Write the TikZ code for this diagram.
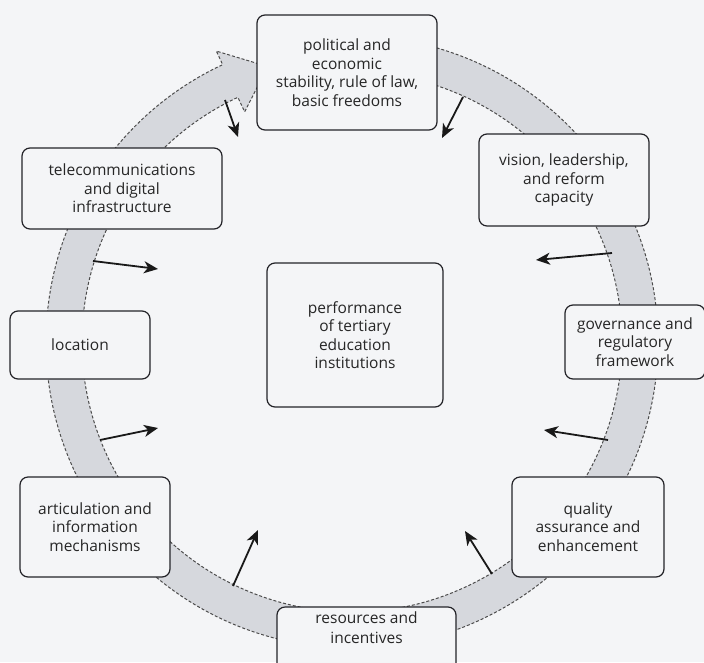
\documentclass[tikz,border=0pt]{standalone}
\usepackage{fontspec}
\setmainfont{Open Sans}
\usetikzlibrary{arrows.meta}
\definecolor{paper}{RGB}{244,245,247}
\definecolor{bandfill}{RGB}{214,216,221}
\definecolor{edge}{RGB}{35,35,40}
\begin{document}
\begin{tikzpicture}[x=1pt,y=-1pt,
  box/.style={draw=edge, line width=1.2pt, rounded corners=8pt, fill=paper, align=center, inner sep=0pt, font=\fontsize{15.5}{18.5}\selectfont, text=black!85},
  link/.style={draw=black!90, line width=1.8pt, -{Stealth[length=14pt,width=12pt,inset=4pt]}},
  band/.style={fill=bandfill, draw=black!70, line width=1pt, dash pattern=on 3pt off 2pt}]
\fill[paper] (0,0) rectangle (704,662);
\useasboundingbox (0,0) rectangle (704,662);
% circular band with arrowhead
\begin{scope}[shift={(352,342)}]
\draw[band] (-88:306) arc[start angle=-88, end angle=245, radius=306]
  -- (245:321) -- (253:288) -- (245:254) -- (245:270)
  arc[start angle=245, end angle=-88, radius=270] -- cycle;
\end{scope}
% boxes
\node[box, minimum width=180pt, minimum height=115pt] (top) at (347,72.5) {political and\\economic\\stability, rule of law,\\basic freedoms};
\node[box, minimum width=170pt, minimum height=92pt] (vision) at (564,180) {vision, leadership,\\and reform\\capacity};
\node[box, minimum width=140pt, minimum height=74pt] (gov) at (635,342) {governance and\\regulatory\\framework};
\node[box, minimum width=152pt, minimum height=100pt] (quality) at (588,527) {quality\\assurance and\\enhancement};
\node[box, minimum width=179pt, minimum height=80pt] (res) at (366.5,647) {resources and\\[2pt]incentives\\[20pt]};
\node[box, minimum width=150pt, minimum height=100pt] (artic) at (95,527) {articulation and\\information\\mechanisms};
\node[box, minimum width=140pt, minimum height=68pt] (loc) at (80,345) {location};
\node[box, minimum width=200pt, minimum height=81pt] (tele) at (122,188.5) {telecommunications\\and digital\\infrastructure};
\node[box, minimum width=176pt, minimum height=144pt] (perf) at (355,335) {performance\\of tertiary\\education\\institutions};
% arrows from the band into the centre
\coordinate (a1s) at (225,100); \coordinate (a1e) at (238,137);
\coordinate (a2s) at (463,97);  \coordinate (a2e) at (442,138);
\coordinate (a3s) at (93,261);  \coordinate (a3e) at (158,269);
\coordinate (a4s) at (100,440); \coordinate (a4e) at (158,428);
\coordinate (a5s) at (612,253); \coordinate (a5e) at (536,260);
\coordinate (a6s) at (608,440); \coordinate (a6e) at (544,430);
\coordinate (a7s) at (233,586); \coordinate (a7e) at (258,530);
\coordinate (a8s) at (492,574); \coordinate (a8e) at (465,531);
\foreach \i in {1,...,8} \draw[link] (a\i s) -- (a\i e);
\end{tikzpicture}
\end{document}
